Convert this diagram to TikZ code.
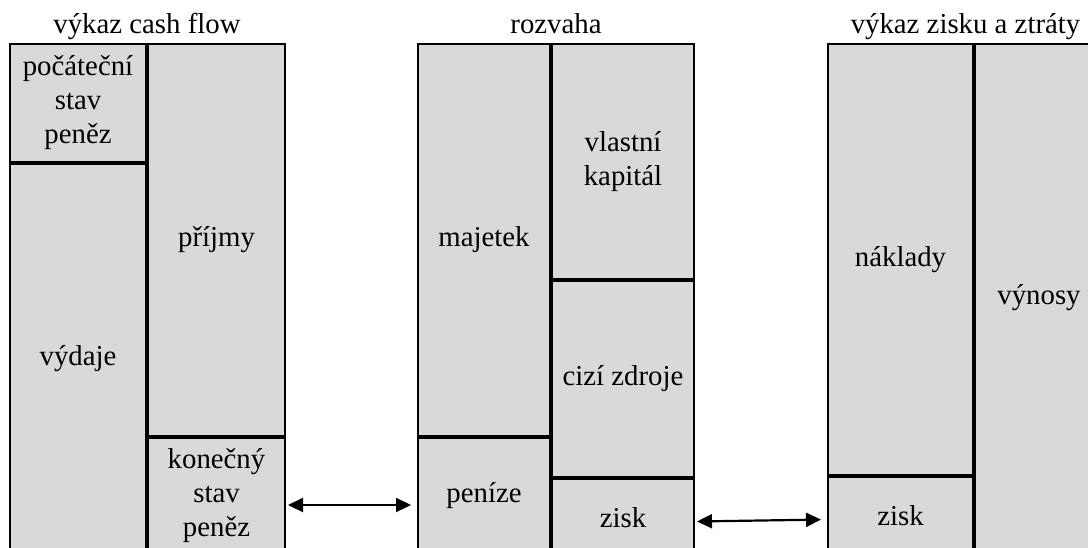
\documentclass[tikz,border=0pt]{standalone}
\usepackage{fontspec}
\setmainfont{Liberation Serif}
\usetikzlibrary{positioning, calc, arrows.meta}
\definecolor{cellgray}{HTML}{D9D9D9}
\tikzset{
  cell/.style={draw, fill=cellgray, line width=1pt, inner sep=0pt, align=center,
    font=\fontsize{14.4}{17}\selectfont},
  title/.style={anchor=base, inner sep=0pt, font=\fontsize{14.4}{17}\selectfont},
  link/.style={{Triangle[length=7.5pt,width=7pt]}-{Triangle[length=7.5pt,width=7pt]},
    line width=1.1pt, shorten <=1pt, shorten >=3pt},
}
\begin{document}
\begin{tikzpicture}
  \useasboundingbox (0,0) rectangle (544pt,-273.5pt);

  % cash flow
  \node[cell, minimum width=68pt, minimum height=59pt, anchor=north west] (poc) at (4.5pt,-21.5pt) {počáteční\\stav\\peněz};
  \node[cell, minimum width=68pt, minimum height=195pt, below=0pt of poc] (vyd) {výdaje};
  \node[cell, minimum width=68.5pt, minimum height=196pt, right=0pt of poc.north east, anchor=north west] (pri) {příjmy};
  \node[cell, minimum width=68.5pt, minimum height=58pt, below=0pt of pri] (kon) {konečný\\stav\\peněz};

  % rozvaha
  \node[cell, minimum width=66pt, minimum height=196pt, anchor=north west] (maj) at (208.5pt,-21.5pt) {majetek};
  \node[cell, minimum width=66pt, minimum height=58pt, below=0pt of maj] (pen) {peníze};
  \node[cell, minimum width=71pt, minimum height=117.5pt, right=0pt of maj.north east, anchor=north west] (vk) {vlastní\\kapitál};
  \node[cell, minimum width=71pt, minimum height=98pt, below=0pt of vk] (cz) {cizí zdroje};
  \node[cell, minimum width=71pt, minimum height=38.5pt, below=0pt of cz] (zr) {zisk};

  % vysledovka
  \node[cell, minimum width=72.5pt, minimum height=215.5pt, anchor=north west] (nak) at (413.5pt,-21.5pt) {náklady};
  \node[cell, minimum width=72.5pt, minimum height=38.5pt, below=0pt of nak] (zv) {zisk};
  \node[cell, minimum width=64pt, minimum height=254pt, right=0pt of nak.north east, anchor=north west] (vyn) {výnosy};

  % titles
  \node[title] (tcf) at ([yshift=5pt]poc.north east) {výkaz cash flow};
  \node[title] (trz) at ($(maj.north west)!0.5!(vk.north east)+(0,5pt)$) {rozvaha};
  \node[title] (tzz) at ($(nak.north west)!0.5!(vyn.north east)+(0,5pt)$) {výkaz zisku a ztráty};

  % vazby
  \draw[link] ([yshift=-4.5pt]kon.east) -- ([yshift=-4.5pt]pen.west);
  \draw[link] ([yshift=-2pt]zr.east) -- ([yshift=-2pt]zv.west);
\end{tikzpicture}
\end{document}
